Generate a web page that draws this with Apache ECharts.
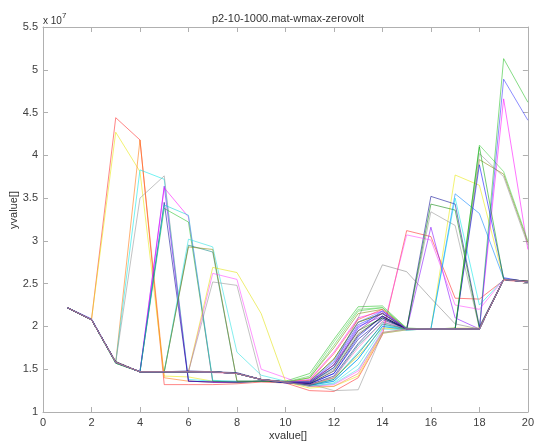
<!DOCTYPE html>
<html>
<head>
<meta charset="utf-8">
<script src="https://cdn.jsdelivr.net/npm/echarts@6/dist/echarts.min.js"></script>
<style>html,body{margin:0;padding:0;background:#fff;}#chart{width:537px;height:445px;}</style>
</head>
<body>
<div id="chart"></div>
<script>
// x positions (1..20), y values in units of 1e7
const xValues = [1,2,3,4,5,6,7,8,9,10,11,12,13,14,15,16,17,18,19,20];
const xTicks = [0,2,4,6,8,10,12,14,16,18,20];
const yTicks = [1,1.5,2,2.5,3,3.5,4,4.5,5,5.5];

const s01 = [2.22,2.08,4.44,4.18,1.32,1.32,1.32,1.33,1.35,1.34,1.25,1.24,1.40,1.90,3.12,3.05,2.33,2.32,2.54,2.52];
const s02 = [2.22,2.08,4.27,3.81,1.42,1.41,1.36,1.35,1.36,1.35,1.28,1.30,1.42,1.92,1.96,1.97,3.77,3.65,2.56,2.52];
const s03 = [2.22,2.08,1.58,4.18,1.40,1.36,1.35,1.35,1.36,1.36,1.36,1.62,2.05,2.15,1.97,1.97,1.97,1.97,2.55,2.53];
const s04 = [2.22,2.08,1.58,3.83,3.72,1.38,1.36,1.35,1.36,1.35,1.32,1.38,1.70,2.02,1.96,1.97,3.50,2.25,2.55,2.52];
const s05 = [2.22,2.08,1.58,3.50,3.76,1.36,1.35,1.34,1.36,1.35,1.34,1.50,1.92,2.10,1.97,3.34,3.18,1.98,2.55,2.52];
const s06 = [2.22,2.08,1.58,1.47,3.64,1.36,1.35,1.35,1.36,1.35,1.35,1.55,2.00,2.12,1.96,3.16,2.10,1.97,2.55,2.52];
const s07 = [2.22,2.08,1.58,1.47,3.62,3.28,1.35,1.35,1.36,1.35,1.38,1.70,2.10,2.18,1.97,1.97,1.97,1.97,4.66,2.90];
const s08 = [2.22,2.08,1.57,1.47,3.38,3.22,1.36,1.35,1.36,1.36,1.45,1.85,2.23,2.24,1.98,1.97,1.97,1.97,5.13,4.62];
const s09 = [2.22,2.08,1.58,1.47,3.45,1.36,1.35,1.35,1.36,1.35,1.33,1.45,1.85,2.08,1.97,3.52,3.43,2.00,2.55,2.52];
const s10 = [2.22,2.08,1.58,1.47,3.42,3.30,1.37,1.36,1.36,1.35,1.31,1.36,1.62,2.00,1.97,1.97,1.97,1.97,2.55,2.53];
const s11 = [2.22,2.08,1.58,1.47,1.47,2.95,2.87,1.36,1.36,1.35,1.32,1.40,1.78,2.05,1.97,1.97,1.97,1.97,2.55,2.52];
const s12 = [2.22,2.08,1.58,1.47,1.47,3.02,2.93,1.70,1.43,1.36,1.30,1.34,1.55,1.97,1.96,1.97,1.97,1.97,2.55,2.52];
const s13 = [2.22,2.08,1.58,1.47,1.47,2.93,2.90,1.36,1.36,1.35,1.40,1.75,2.15,2.20,1.97,1.97,1.97,3.95,3.78,2.98];
const s14 = [2.22,2.08,1.58,1.47,1.47,1.47,2.62,2.55,1.50,1.40,1.30,1.32,1.48,1.95,3.07,3.01,2.25,2.20,2.55,2.52];
const s15 = [2.22,2.08,1.58,1.47,1.47,1.47,2.69,2.63,2.15,1.36,1.32,1.40,1.65,1.98,1.97,1.97,1.98,1.98,2.55,2.53];
const s16 = [2.22,2.08,1.58,1.47,1.47,1.47,2.52,2.48,1.38,1.36,1.33,1.25,1.26,1.92,1.96,1.97,1.97,4.02,3.75,2.95];
const s17 = [2.22,2.08,1.58,1.47,1.47,1.47,1.47,1.45,1.38,1.35,1.33,1.55,2.10,2.72,2.64,2.33,2.03,1.97,2.55,2.52];
const s18 = [2.22,2.08,1.58,1.47,1.47,1.47,1.47,1.45,1.38,1.35,1.34,1.52,1.95,2.10,1.97,3.43,3.36,1.98,2.55,2.52];
const s19 = [2.22,2.08,1.58,1.47,1.47,1.47,1.47,1.45,1.38,1.35,1.31,1.36,1.62,2.00,1.96,1.97,3.55,3.32,2.56,2.52];
const s20 = [2.22,2.08,1.57,1.47,1.47,1.47,1.47,1.45,1.38,1.35,1.40,1.78,2.18,2.22,1.97,1.97,1.97,4.12,3.81,3.00];
const s21 = [2.22,2.08,1.58,1.47,1.47,1.47,1.47,1.45,1.38,1.34,1.33,1.45,1.88,2.12,1.97,1.97,1.97,3.89,2.57,2.52];
const s22 = [2.22,2.08,1.58,1.47,1.47,1.47,1.47,1.45,1.38,1.35,1.36,1.62,2.05,2.15,1.97,1.97,1.98,4.10,2.55,2.52];
const s23 = [2.22,2.08,1.58,1.47,1.47,1.47,1.47,1.45,1.38,1.35,1.35,1.58,2.02,2.15,1.97,1.97,1.97,1.97,4.89,4.41];
const s24 = [2.22,2.08,1.59,1.47,1.47,1.47,1.47,1.45,1.38,1.35,1.33,1.48,1.90,2.12,1.97,1.97,1.97,1.97,2.55,2.53];
const s25 = [2.22,2.08,1.58,1.47,1.47,1.48,1.47,1.46,1.38,1.34,1.32,1.42,1.80,2.10,1.97,1.97,1.97,1.97,2.55,2.52];
const s26 = [2.22,2.08,1.58,1.47,1.47,1.47,1.47,1.45,1.38,1.35,1.37,1.68,2.08,2.20,1.97,1.97,1.97,1.97,2.55,2.52];
const s27 = [2.22,2.08,1.58,1.47,1.47,1.47,1.46,1.45,1.38,1.35,1.32,1.40,1.75,2.06,1.97,1.97,1.97,1.97,2.55,2.53];
const s28 = [2.22,2.09,1.58,1.47,1.47,1.47,1.47,1.45,1.38,1.35,1.34,1.52,1.98,2.18,1.97,1.97,1.97,1.97,2.55,2.52];
const s29 = [2.22,2.08,1.57,1.47,1.47,1.47,1.47,1.45,1.38,1.35,1.31,1.38,1.68,2.03,1.97,1.97,1.97,1.97,2.55,2.53];
const s30 = [2.22,2.08,1.58,1.47,1.47,1.47,1.47,1.45,1.38,1.35,1.35,1.55,1.95,2.16,1.97,1.97,1.97,1.97,2.55,2.52];
const s31 = [2.22,2.08,1.58,1.47,1.47,1.47,1.47,1.45,1.38,1.35,1.30,1.33,1.50,1.93,1.97,1.97,1.97,1.97,2.55,2.52];
const s32 = [2.22,2.08,1.58,1.47,1.47,1.47,1.47,1.45,1.38,1.35,1.42,1.82,2.20,2.22,1.98,1.97,1.97,1.97,2.55,2.52];
const s33 = [2.22,2.08,1.58,1.47,1.47,1.47,1.47,1.45,1.38,1.35,1.36,1.60,2.05,2.18,1.97,1.97,1.97,1.97,2.55,2.52];
const s34 = [2.22,2.08,1.58,1.47,1.47,1.47,1.47,1.45,1.38,1.35,1.30,1.30,1.45,1.93,1.97,1.97,1.97,1.97,2.55,2.52];

const seriesList = [s01,s02,s03,s04,s05,s06,s07,s08,s09,s10,s11,s12,s13,s14,s15,s16,s17,s18,s19,s20,s21,s22,s23,s24,s25,s26,s27,s28,s29,s30,s31,s32,s33,s34];
const seriesColors = ['#ff2020','#e8e800','#ff7000','#00e8e8','#909090','#8000ff','#ff00ff','#20c020','#000090','#00d0d0',
  '#008080','#20e0e0','#808000','#ff40ff','#e0e000','#909090','#808080','#008000','#0080ff','#40d040',
  '#0000ff','#00a000','#3030ff','#000000','#000080','#ff4040','#ff60c0','#2020ff','#006060','#800080',
  '#40e0e0','#50d050','#6060ff','#ff6060'];

const chart = echarts.init(document.getElementById('chart'), null, {renderer: 'canvas'});
const axisColor = '#b0b0b0';
const labelStyle = {color: '#404040', fontSize: 11, fontFamily: 'Liberation Sans, Arial, sans-serif'};

const series = seriesList.map((vals, i) => ({
  type: 'line',
  data: xValues.map((x, j) => [x, vals[j]]),
  symbol: 'none',
  silent: true,
  lineStyle: {width: 1, color: seriesColors[i], opacity: 0.55},
  z: 2
}));

chart.setOption({
  animation: false,
  backgroundColor: '#fff',
  grid: {left: 43, right: 4, top: 27, bottom: 33, containLabel: false},
  xAxis: [
    {type: 'value', min: 0, max: 20, interval: 2, position: 'bottom',
     axisLine: {show: true, onZero: false, lineStyle: {color: axisColor}},
     axisTick: {show: true, inside: true, length: 5, lineStyle: {color: axisColor}},
     axisLabel: Object.assign({margin: 5, showMaxLabel: true}, labelStyle),
     splitLine: {show: false}},
    {type: 'value', min: 0, max: 20, interval: 2, position: 'top',
     axisLine: {show: true, onZero: false, lineStyle: {color: axisColor}},
     axisTick: {show: true, inside: true, length: 5, lineStyle: {color: axisColor}},
     axisLabel: {show: false}, splitLine: {show: false}}
  ],
  yAxis: [
    {type: 'value', min: 1, max: 5.5, interval: 0.5, position: 'left',
     axisLine: {show: true, onZero: false, lineStyle: {color: axisColor}},
     axisTick: {show: true, inside: true, length: 5, lineStyle: {color: axisColor}},
     axisLabel: Object.assign({margin: 5, formatter: v => String(v)}, labelStyle),
     splitLine: {show: false}},
    {type: 'value', min: 1, max: 5.5, interval: 0.5, position: 'right',
     axisLine: {show: true, onZero: false, lineStyle: {color: axisColor}},
     axisTick: {show: true, inside: true, length: 5, lineStyle: {color: axisColor}},
     axisLabel: {show: false}, splitLine: {show: false}}
  ],
  series: series,
  graphic: [
    {type: 'text', x: 288, y: 19, style: {text: 'p2-10-1000.mat-wmax-zerovolt', fill: '#333', font: '11px Liberation Sans, Arial, sans-serif', textAlign: 'center', textVerticalAlign: 'middle'}},
    {type: 'text', x: 288, y: 436, style: {text: 'xvalue[]', fill: '#333', font: '11px Liberation Sans, Arial, sans-serif', textAlign: 'center', textVerticalAlign: 'middle'}},
    {type: 'text', x: 14, y: 210, rotation: Math.PI / 2, style: {text: 'yvalue[]', fill: '#333', font: '11px Liberation Sans, Arial, sans-serif', textAlign: 'center', textVerticalAlign: 'middle'}},
    {type: 'text', x: 43, y: 21, style: {text: 'x 10', fill: '#333', font: '10px Liberation Sans, Arial, sans-serif', textAlign: 'left', textVerticalAlign: 'middle'}},
    {type: 'text', x: 62, y: 16, style: {text: '7', fill: '#333', font: '8px Liberation Sans, Arial, sans-serif', textAlign: 'left', textVerticalAlign: 'middle'}}
  ]
});
</script>
</body>
</html>
